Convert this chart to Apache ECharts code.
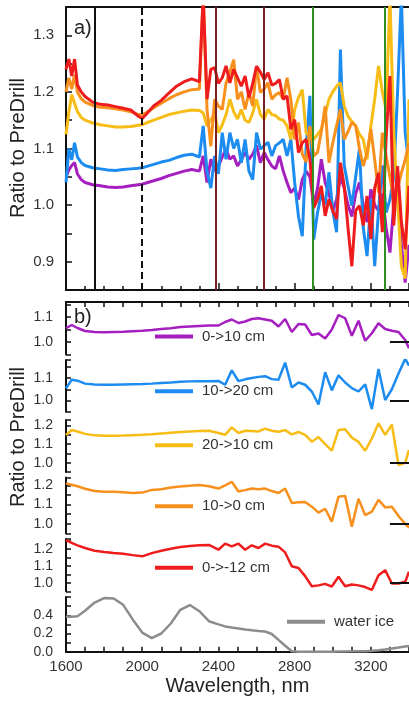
<!DOCTYPE html>
<html>
<head>
<meta charset="utf-8">
<script src="https://cdn.jsdelivr.net/npm/echarts@6/dist/echarts.min.js"></script>
<style>
  html, body { margin: 0; padding: 0; background: #fff; }
  #main { width: 409px; height: 701px; }
</style>
</head>
<body>
<div id="main"></div>
<script>
// ---- panel a) data: ratio to PreDrill, full resolution
var wlA = [1600,1615,1630,1645,1660,1680,1700,1740,1780,1820,1860,1900,1940,1980,2000,2020,2060,2100,2140,2180,2220,2260,2300,
  2320,2340,2360,2380,2400,2420,2440,2460,2480,2500,2520,2540,2560,2580,2600,2620,2640,2660,2680,2700,
  2720,2740,2760,2780,2800,2820,2840,2860,2880,2900,2920,2940,2960,2980,3000,3020,3040,3060,3080,3100,
  3120,3140,3160,3180,3200,3220,3240,3260,3280,3300,3320,3340,3360,3380,3400];

var purpleA = [1.050,1.062,1.070,1.075,1.055,1.045,1.040,1.036,1.034,1.032,1.031,1.032,1.034,1.036,1.037,1.039,1.043,1.047,1.052,1.056,1.060,1.063,1.060,
  1.087,1.040,1.081,1.060,1.069,1.085,1.099,1.081,1.087,1.069,1.080,1.093,1.081,1.090,1.105,1.075,1.093,1.080,1.069,1.064,
  1.087,1.060,1.040,1.022,1.030,1.010,1.045,1.060,1.050,1.000,1.030,1.081,1.040,1.020,0.990,1.010,1.050,1.030,1.000,0.980,
  1.020,1.040,1.000,0.970,1.028,1.000,0.990,1.020,0.960,0.916,1.000,1.030,0.930,0.863,0.930];
var blueA = [1.040,1.100,1.080,1.110,1.085,1.075,1.070,1.066,1.064,1.062,1.061,1.063,1.064,1.065,1.066,1.068,1.072,1.076,1.079,1.084,1.088,1.090,1.085,
  1.140,1.060,1.030,1.087,1.055,1.128,1.081,1.128,1.100,1.116,1.075,1.116,1.060,1.045,1.128,1.099,1.105,1.111,1.087,1.105,
  1.110,1.116,1.087,1.116,1.040,0.980,0.945,1.100,1.193,0.939,0.987,1.020,1.000,1.058,0.990,0.952,1.275,1.070,1.034,0.999,
  1.050,1.099,0.960,0.910,1.010,0.892,0.990,1.070,0.987,1.010,1.050,1.200,1.370,1.128,1.070];
var yellowA = [1.125,1.165,1.195,1.180,1.165,1.155,1.150,1.145,1.142,1.140,1.138,1.138,1.139,1.141,1.142,1.145,1.150,1.155,1.160,1.163,1.166,1.168,1.167,
  1.163,1.140,1.150,1.163,1.128,1.142,1.160,1.187,1.165,1.152,1.169,1.150,1.146,1.163,1.187,1.160,1.152,1.169,1.160,1.158,
  1.152,1.150,1.140,1.116,1.169,1.190,1.204,1.128,1.120,1.116,1.125,1.134,1.160,1.187,1.200,1.210,1.216,1.175,1.157,1.148,
  1.140,1.125,1.116,1.081,1.140,1.187,1.246,1.200,1.169,1.370,1.128,1.010,0.892,0.870,1.187];
var orangeA = [1.200,1.225,1.205,1.230,1.200,1.188,1.182,1.176,1.173,1.172,1.170,1.168,1.165,1.160,1.160,1.163,1.172,1.180,1.188,1.195,1.200,1.204,1.205,
  1.370,1.169,1.104,1.187,1.175,1.169,1.216,1.235,1.257,1.187,1.200,1.169,1.199,1.175,1.246,1.199,1.205,1.216,1.187,1.195,
  1.199,1.187,1.225,1.187,1.116,1.146,1.090,1.076,1.140,1.087,1.093,1.130,1.175,1.075,1.110,1.140,1.169,1.116,1.130,1.146,
  1.140,1.100,1.069,1.093,1.134,1.080,1.022,1.128,1.087,1.050,1.010,1.030,1.057,1.080,1.110];
var redA = [1.240,1.258,1.228,1.258,1.212,1.200,1.192,1.182,1.178,1.177,1.174,1.171,1.168,1.157,1.153,1.160,1.175,1.185,1.198,1.210,1.218,1.223,1.218,
  1.370,1.187,1.240,1.243,1.215,1.225,1.246,1.216,1.240,1.225,1.210,1.228,1.190,1.215,1.245,1.235,1.222,1.234,1.212,1.215,
  1.222,1.187,1.193,1.134,1.151,1.093,1.110,1.116,1.081,0.995,1.010,1.034,0.981,1.010,0.990,0.975,1.075,1.034,0.960,0.892,
  0.990,0.999,0.964,1.016,0.940,1.030,1.057,0.952,1.120,1.228,0.964,1.069,0.970,0.922,1.034];

// absorption band markers in panel a
var bandLines = [1750, 2000, 2385, 2640, 2895, 3275];

// ---- panel b) data: binned spectra
var wlB = [1600,1630,1660,1700,1750,1800,1850,1900,1950,2000,2050,2100,2150,2200,2250,2300,2350,
  2400,2435,2470,2505,2540,2575,2610,2645,2680,2715,2750,2785,2820,2855,2890,2925,2960,2995,
  3030,3065,3100,3135,3170,3205,3240,3275,3310,3345,3380,3400];
var purpleB = [1.055,1.068,1.056,1.044,1.040,1.039,1.040,1.041,1.043,1.045,1.048,1.052,1.055,1.060,1.062,1.064,1.066,
  1.066,1.080,1.090,1.076,1.082,1.092,1.095,1.090,1.085,1.062,1.092,1.040,1.072,1.070,1.028,1.034,1.014,1.050,
  1.108,1.095,1.025,1.085,1.005,1.035,1.075,1.052,1.045,1.040,1.008,0.975];
var blueB = [1.054,1.092,1.088,1.075,1.071,1.070,1.070,1.071,1.072,1.073,1.075,1.078,1.080,1.083,1.085,1.086,1.086,
  1.087,1.070,1.134,1.086,1.094,1.100,1.105,1.108,1.095,1.092,1.168,1.058,1.080,1.070,1.040,0.982,1.126,1.045,
  1.112,1.080,1.055,1.040,1.072,0.962,1.140,1.002,1.050,1.120,1.185,1.155];
var yellowB = [1.149,1.176,1.168,1.155,1.147,1.145,1.145,1.146,1.148,1.150,1.153,1.157,1.161,1.165,1.168,1.170,1.172,
  1.160,1.150,1.190,1.160,1.172,1.170,1.168,1.183,1.172,1.166,1.175,1.152,1.165,1.150,1.113,1.138,1.100,1.065,
  1.176,1.180,1.135,1.112,1.065,1.130,1.212,1.150,1.205,0.988,1.000,1.069];
var orangeB = [1.210,1.203,1.195,1.182,1.170,1.166,1.166,1.164,1.160,1.162,1.176,1.180,1.188,1.194,1.198,1.202,1.195,
  1.183,1.200,1.218,1.168,1.175,1.183,1.180,1.183,1.170,1.160,1.183,1.108,1.112,1.113,1.089,1.058,1.078,1.011,
  1.141,1.145,0.985,1.130,1.045,1.063,1.124,1.085,1.089,1.040,1.000,0.980];
var redB = [1.253,1.236,1.222,1.206,1.190,1.183,1.177,1.172,1.164,1.157,1.176,1.190,1.202,1.212,1.218,1.222,1.224,
  1.196,1.232,1.216,1.232,1.196,1.222,1.206,1.232,1.220,1.214,1.180,1.098,1.088,1.040,0.980,0.985,0.994,0.978,
  1.036,0.980,0.990,0.985,0.975,0.958,1.045,1.075,0.996,0.996,1.006,1.066];
var iceB = [0.385,0.383,0.390,0.450,0.540,0.590,0.585,0.515,0.355,0.210,0.150,0.200,0.310,0.460,0.513,0.445,0.335,
  0.300,0.278,0.265,0.255,0.245,0.236,0.228,0.222,0.195,0.130,0.065,0.005,0,0,0,0,0,0,
  0.002,0.003,0.004,0.005,0.006,0.010,0.015,0.024,0.034,0.045,0.057,0.063];

var names = ['0->10 cm', '10->20 cm', '20->10 cm', '10->0 cm', '0->-12 cm', 'water ice'];
var colors = ['#a51fc0', '#1d8cf0', '#f7bd16', '#f7901d', '#ee1c1c', '#8c8c8c'];
var xTicks = [1600, 2000, 2400, 2800, 3200];

var font = 'Liberation Sans, Arial, sans-serif';
var chart = echarts.init(document.getElementById('main'), null, {renderer: 'canvas'});

function zip(xs, ys) {
  var out = [];
  for (var i = 0; i < xs.length; i++) out.push([xs[i], ys[i]]);
  return out;
}
function tenths(v) {
  var r = Math.round(v * 100);
  return r % 10 === 0 ? (r / 100).toFixed(1) : '';
}

// sub panels of b): [top, height, min, max, interval]
var subs = [
  [302, 52.5, 0.95, 1.16, 0.05],
  [360, 51.75, 0.95, 1.18, 0.05],
  [419.9, 52.2, 0.95, 1.23, 0.05],
  [477.6, 55.8, 0.95, 1.24, 0.05],
  [538.9, 52.4, 0.95, 1.26, 0.05],
  [597.1, 54.6, 0, 0.6, 0.1]
];
var dataB = [purpleB, blueB, yellowB, orangeB, redB, iceB];
var dataA = [purpleA, blueA, yellowA, orangeA, redA];

var grids = [{left: 66, right: 0, top: 7, height: 283}];
var xAxes = [
  {gridIndex: 0, type: 'value', min: 1600, max: 3400, interval: 400, position: 'bottom',
   axisLine: {lineStyle: {color: '#111', width: 2}},
   axisTick: {inside: true, length: 7, lineStyle: {color: '#111', width: 1.5}},
   minorTick: {show: true, splitNumber: 4, length: 4, lineStyle: {color: '#111', width: 1.5}},
   axisLabel: {show: false}, splitLine: {show: false}},
  {gridIndex: 0, type: 'value', min: 1600, max: 3400, position: 'top',
   axisLine: {lineStyle: {color: '#111', width: 2}}, axisTick: {show: false},
   axisLabel: {show: false}, splitLine: {show: false}}
];
var yAxes = [
  {gridIndex: 0, type: 'value', min: 0.85, max: 1.35, interval: 0.05,
   axisLine: {show: true, lineStyle: {color: '#111', width: 2}},
   axisTick: {show: true, inside: true, length: 6, lineStyle: {color: '#111', width: 1.5}},
   axisLabel: {formatter: tenths, fontSize: 15, color: '#333', fontFamily: font, margin: 12},
   splitLine: {show: false}}
];
var series = [];

dataA.forEach(function (vals, i) {
  series.push({
    name: names[i], type: 'line', xAxisIndex: 0, yAxisIndex: 0,
    data: zip(wlA, vals), symbol: 'none', animation: false,
    lineStyle: {color: colors[i], width: 3}, itemStyle: {color: colors[i]}
  });
});
// band markers drawn over the data
var bandColors = ['#111', '#111', '#7a1f1f', '#7a1f1f', '#2f8f22', '#2f8f22'];
series[4].markLine = {
  silent: true, symbol: 'none', animation: false, label: {show: false},
  data: bandLines.map(function (x, k) {
    return {xAxis: x, lineStyle: {color: bandColors[k], width: 2, type: k === 1 ? [7, 4] : 'solid'}};
  })
};

subs.forEach(function (s, k) {
  var gi = k + 1;
  grids.push({left: 66, right: 0, top: s[0], height: s[1]});
  var xa = {gridIndex: gi, type: 'value', min: 1600, max: 3400, interval: 400,
    splitLine: {show: false}, axisLabel: {show: false}, axisTick: {show: false}, axisLine: {show: false}};
  if (k === 0) {
    xa.position = 'top';
    xa.axisLine = {show: true, lineStyle: {color: '#111', width: 2}};
    xa.axisTick = {show: true, inside: true, length: 5, lineStyle: {color: '#111', width: 1.5}};
    xa.minorTick = {show: true, splitNumber: 4, length: 5, lineStyle: {color: '#111', width: 1.5}};
  }
  if (k === 5) {
    xa.position = 'bottom';
    xa.axisLine = {show: true, lineStyle: {color: '#111', width: 2}};
    xa.axisTick = {show: true, inside: true, length: 5, lineStyle: {color: '#111', width: 1.5}};
    xa.minorTick = {show: true, splitNumber: 4, length: 5, lineStyle: {color: '#111', width: 1.5}};
    xa.axisLabel = {show: true, fontSize: 15, color: '#333', fontFamily: font, margin: 8,
      showMaxLabel: false,
      formatter: function (v) { return xTicks.indexOf(v) >= 0 ? String(v) : ''; }};
    xa.name = 'Wavelength, nm';
    xa.nameLocation = 'middle';
    xa.nameGap = 25;
    xa.nameTextStyle = {fontSize: 20, color: '#222', fontFamily: font};
  }
  xAxes.push(xa);
  yAxes.push({
    gridIndex: gi, type: 'value', min: s[2], max: s[3], interval: s[4],
    axisLine: {show: true, lineStyle: {color: '#111', width: 2}},
    axisTick: {show: true, inside: true, length: 5, lineStyle: {color: '#111', width: 1.5}},
    axisLabel: {fontSize: 14, color: '#333', fontFamily: font, margin: 13,
      formatter: k === 5 ? function (v) {
        var r = Math.round(v * 10);
        return (r % 2 === 0 && r < 6) ? (r / 10).toFixed(1) : '';
      } : tenths},
    splitLine: {show: false}
  });
  var ser = {
    name: names[k], type: 'line', xAxisIndex: gi + 1, yAxisIndex: gi,
    data: zip(wlB, dataB[k]), symbol: 'none', animation: false,
    lineStyle: {color: colors[k], width: 2.5}, itemStyle: {color: colors[k]}
  };
  if (k < 5) {
    ser.markLine = {
      silent: true, symbol: 'none', animation: false, label: {show: false},
      lineStyle: {color: '#111', width: 2, type: 'solid'},
      data: [[{coord: [3300, 1.0]}, {coord: [3400, 1.0]}]]
    };
  }
  series.push(ser);
});

// legend entries placed inside panel b
var legendPos = [[155, 338], [155, 392.7], [155, 446.7], [155, 507.7], [155, 569.3], [287, 623.3]];
var legends = names.map(function (n, k) {
  return {
    data: [n], left: legendPos[k][0], top: legendPos[k][1] - 9, padding: 0,
    icon: 'rect', itemWidth: 38, itemHeight: 4, selectedMode: false,
    textStyle: {fontSize: 15, color: '#333', fontFamily: font, padding: [0, 0, 0, 4]}
  };
});

chart.setOption({
  backgroundColor: '#fff',
  animation: false,
  grid: grids,
  xAxis: xAxes,
  yAxis: yAxes,
  legend: legends,
  series: series,
  graphic: [
    {type: 'text', left: 74, top: 18, z: 100,
     style: {text: 'a)', fontSize: 20, fill: '#222', fontFamily: font}},
    {type: 'text', left: 74, top: 307, z: 100,
     style: {text: 'b)', fontSize: 20, fill: '#222', fontFamily: font}},
    {type: 'text', x: 18, y: 148, rotation: Math.PI / 2, z: 100,
     style: {text: 'Ratio to PreDrill', fontSize: 20, fill: '#222', fontFamily: font,
       textAlign: 'center', textVerticalAlign: 'middle'}},
    {type: 'text', x: 18, y: 437, rotation: Math.PI / 2, z: 100,
     style: {text: 'Ratio to PreDrill', fontSize: 20, fill: '#222', fontFamily: font,
       textAlign: 'center', textVerticalAlign: 'middle'}}
  ]
});
</script>
</body>
</html>
